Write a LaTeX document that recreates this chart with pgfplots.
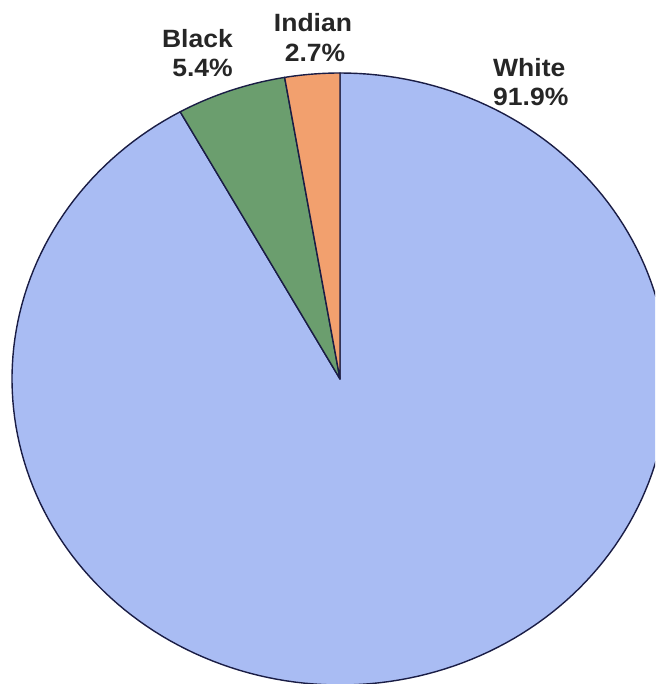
\documentclass[border=0pt]{standalone}
\usepackage{pgfplots}
\pgfplotsset{compat=1.18}
\usepackage{fontspec}
\setmainfont{Liberation Sans}
\definecolor{cWhite}{HTML}{A9BCF3}
\definecolor{cBlack}{HTML}{6B9E6E}
\definecolor{cIndian}{HTML}{F2A06E}
\definecolor{cEdge}{HTML}{1A1D45}
% percentages
\def\pIndian{2.7}
\def\pBlack{5.4}
\def\pWhite{91.9}
\begin{document}
\begin{tikzpicture}[x=1pt,y=1pt]
\pgfmathsetmacro{\aA}{90}
\pgfmathsetmacro{\aB}{90+3.6*\pIndian}
\pgfmathsetmacro{\aC}{\aB+3.6*\pBlack}
\pgfmathsetmacro{\aD}{\aC+3.6*\pWhite}
\begin{axis}[
  scale only axis, width=655pt, height=684pt,
  xmin=0, xmax=655, ymin=0, ymax=684,
  hide axis, clip=true,
  every axis plot/.append style={line width=1.4pt, draw=cEdge, line join=round},
]
\addplot[fill=cWhite, domain=\aC:\aD, samples=200, variable=\t]
  ({340+328*cos(\t)},{305+306*sin(\t)}) -- (axis cs:340,305) -- cycle;
\addplot[fill=cBlack, domain=\aB:\aC, samples=20, variable=\t]
  ({340+328*cos(\t)},{305+306*sin(\t)}) -- (axis cs:340,305) -- cycle;
\addplot[fill=cIndian, domain=\aA:\aB, samples=12, variable=\t]
  ({340+328*cos(\t)},{305+306*sin(\t)}) -- (axis cs:340,305) -- cycle;
\begin{scope}[every node/.style={font=\fontsize{25}{29}\selectfont\bfseries, text=black!85, inner sep=0pt, xscale=1.06}]
\node[anchor=base east] at (axis cs:233,684-48) {Black};
\node[anchor=base east] at (axis cs:233,684-77) {5.4\%};
\node[anchor=base] at (axis cs:313,684-32) {Indian};
\node[anchor=base] at (axis cs:315,684-62) {2.7\%};
\node[anchor=base west] at (axis cs:493,684-77) {White};
\node[anchor=base west] at (axis cs:493,684-106) {91.9\%};
\end{scope}
\end{axis}
\pgfresetboundingbox
\path (0,0) rectangle (655,684);
\end{tikzpicture}
\end{document}
